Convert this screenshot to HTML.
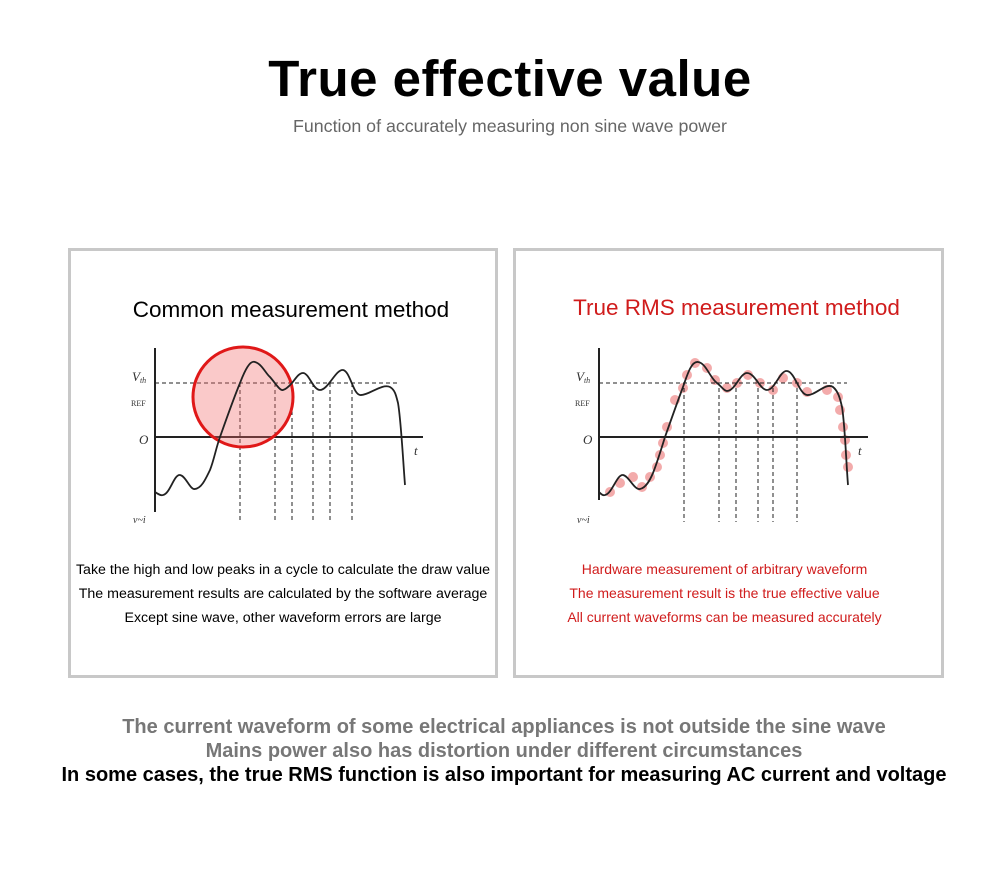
<!DOCTYPE html><html><head><style>
body{margin:0;width:1000px;height:872px;background:#fff;position:relative;font-family:"Liberation Sans",sans-serif;overflow:hidden}
.t{position:absolute;left:0;width:1000px;text-align:center;white-space:nowrap}
.p{position:absolute;border:3px solid #c8c8c8;box-sizing:border-box;top:248px;height:430px}
.d{position:absolute;text-align:center;white-space:nowrap;font-size:14px}
</style></head><body>
<div class="t" style="top:49px;font-size:51px;font-weight:900;left:10px;letter-spacing:0.5px">True effective value</div>
<div class="t" style="top:116px;font-size:17.8px;color:#666;left:10px">Function of accurately measuring non sine wave power</div>
<div class="p" style="left:68px;width:430px"></div>
<div class="p" style="left:513px;width:431px"></div>
<div class="d" style="left:76px;width:430px;top:297px;font-size:22.5px">Common measurement method</div>
<div class="d" style="left:521px;width:431px;top:295px;font-size:22.5px;color:#d01c1c">True RMS measurement method</div>
<div class="d" style="left:68px;width:430px;top:558px;line-height:24px;font-size:14.2px">Take the high and low peaks in a cycle to calculate the draw value<br>The measurement results are calculated by the software average<br>Except sine wave, other waveform errors are large</div>
<div class="d" style="left:509px;width:431px;top:557px;line-height:24px;color:#d01c1c">Hardware measurement of arbitrary waveform<br>The measurement result is the true effective value<br>All current waveforms can be measured accurately</div>
<svg width="1000" height="872" style="position:absolute;left:0;top:0" font-family="Liberation Serif">
<g stroke="#222" fill="none">
<line x1="155" y1="348" x2="155" y2="512" stroke-width="2"/><line x1="155" y1="437" x2="423" y2="437" stroke-width="2"/>
<line x1="155" y1="383" x2="400" y2="383" stroke-dasharray="4,3"/>
<g stroke-dasharray="4,3"><line x1="240" y1="383" x2="240" y2="522"/><line x1="275" y1="383" x2="275" y2="522"/><line x1="292" y1="383" x2="292" y2="522"/><line x1="313" y1="383" x2="313" y2="522"/><line x1="330" y1="383" x2="330" y2="522"/><line x1="352" y1="383" x2="352" y2="522"/></g>
</g>
<circle cx="243" cy="397" r="50" fill="rgba(240,100,100,0.35)" stroke="#e01818" stroke-width="3"/>
<path d="M155,492 C158,494 161,496 163,495 C170,494 174,474 180,475 C186,476 190,490 195,489 C202,488 206,478 210,470 C214,460 216,448 220,437 C226,420 233,400 240,383 C245,370 250,360 255,362 C262,364 266,374 270,377 C276,384 280,391 283,390 C287,389 290,385 292,383 C296,378 299,373 303,373 C309,373 313,390 320,390 C328,390 336,369 343,370 C350,371 353,394 360,395 C368,396 382,383 390,387 C395,390 396,395 398,403 C401,420 403,460 405,485" fill="none" stroke="#222" stroke-width="1.8"/>
<g fill="#e88" opacity="0.7">
<circle cx="610" cy="492" r="5"/><circle cx="620" cy="483" r="5"/><circle cx="633" cy="477" r="5"/><circle cx="642" cy="487" r="5"/><circle cx="650" cy="477" r="5"/><circle cx="657" cy="467" r="5"/><circle cx="660" cy="455" r="5"/><circle cx="663" cy="443" r="5"/><circle cx="667" cy="427" r="5"/><circle cx="675" cy="400" r="5"/><circle cx="683" cy="388" r="5"/><circle cx="687" cy="375" r="5"/><circle cx="695" cy="363" r="5"/><circle cx="707" cy="368" r="5"/><circle cx="715" cy="380" r="5"/><circle cx="727" cy="388" r="5"/><circle cx="737" cy="383" r="5"/><circle cx="748" cy="375" r="5"/><circle cx="760" cy="383" r="5"/><circle cx="773" cy="390" r="5"/><circle cx="783" cy="378" r="5"/><circle cx="797" cy="383" r="5"/><circle cx="807" cy="392" r="5"/><circle cx="827" cy="390" r="5"/><circle cx="838" cy="397" r="5"/><circle cx="840" cy="410" r="5"/><circle cx="843" cy="427" r="5"/><circle cx="845" cy="440" r="5"/><circle cx="846" cy="455" r="5"/><circle cx="848" cy="467" r="5"/>
</g>
<g stroke="#222" fill="none">
<line x1="599" y1="348" x2="599" y2="500" stroke-width="2"/><line x1="599" y1="437" x2="868" y2="437" stroke-width="2"/>
<line x1="599" y1="383" x2="847" y2="383" stroke-dasharray="4,3"/>
<g stroke-dasharray="4,3"><line x1="684" y1="388" x2="684" y2="522"/><line x1="719" y1="388" x2="719" y2="522"/><line x1="736" y1="388" x2="736" y2="522"/><line x1="758" y1="388" x2="758" y2="522"/><line x1="773" y1="388" x2="773" y2="522"/><line x1="797" y1="388" x2="797" y2="522"/></g>
</g>
<path d="M599,492 C601,494 603,496 605,495 C612,494 617,474 623,475 C629,476 634,490 640,489 C646,488 650,480 653,473 C657,463 661,450 665,437 C671,420 677,403 683,387 C688,372 692,361 698,362 C706,363 710,378 717,383 C721,386 724,391 727,391 C735,391 740,373 747,373 C755,373 760,390 767,390 C775,390 780,370 787,371 C795,372 799,394 807,395 C815,396 826,382 833,387 C838,391 840,398 842,407 C845,425 846,460 848,485" fill="none" stroke="#222" stroke-width="1.8"/>
<g font-style="italic" font-size="13" fill="#333">
<text x="132" y="381">V<tspan font-size="8" dy="2">th</tspan></text><text x="131" y="406" font-size="8" font-style="normal">REF</text><text x="139" y="444">O</text><text x="414" y="455">t</text><text x="133" y="523" font-size="10">v~i</text>
<text x="576" y="381">V<tspan font-size="8" dy="2">th</tspan></text><text x="575" y="406" font-size="8" font-style="normal">REF</text><text x="583" y="444">O</text><text x="858" y="455">t</text><text x="577" y="523" font-size="10">v~i</text>
</g>
</svg>
<div class="t" style="top:716px;font-size:20px;font-weight:bold;color:#777;line-height:23.5px;left:4px">The current waveform of some electrical appliances is not outside the sine wave<br>Mains power also has distortion under different circumstances</div>
<div class="t" style="top:764px;font-size:20px;font-weight:bold;color:#000;left:4px">In some cases, the true RMS function is also important for measuring AC current and voltage</div>
</body></html>
